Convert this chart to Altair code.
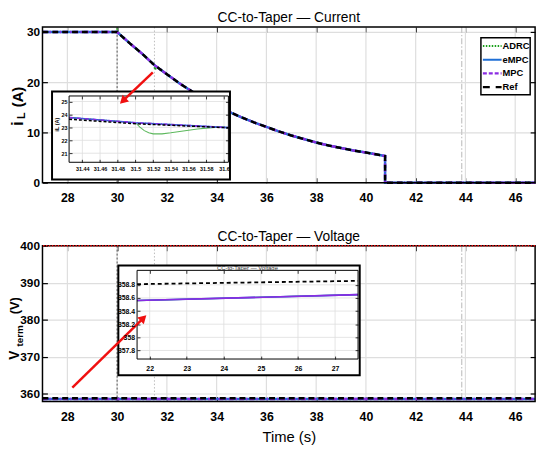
import math
import altair as alt
import pandas as pd

# ---------------- data ----------------
series = ["ADRC", "eMPC", "MPC", "Ref"]

# main current trace (eMPC, MPC and Ref coincide at this scale)
t_cur = [27, 30, 30.5, 31, 31.5, 32, 32.5, 33, 33.5, 34, 34.5, 35, 35.5, 36, 36.5, 37, 37.5, 38,
         38.5, 39, 39.5, 40, 40.5, 40.77, 40.77, 46.8]
i_cur = [30, 30, 27.8, 25.7, 23.4, 21.6, 19.8, 18.2, 16.7, 15.4, 14.1, 13.0, 12.0, 11.1, 10.2, 9.4,
         8.7, 8.0, 7.4, 6.9, 6.4, 6.0, 5.55, 5.3, 0, 0]
# ADRC current (small spike at 30 s, dip just after 31.5 s)
t_cur_adrc = [27, 29.99, 30.0, 30.04, 30.5, 31, 31.5, 31.52, 31.56, 31.62, 32, 32.5, 33, 33.5, 34,
              34.5, 35, 35.5, 36, 36.5, 37, 37.5, 38, 38.5, 39, 39.5, 40, 40.5, 40.77, 40.77, 46.8]
i_cur_adrc = [30, 30, 30.7, 29.8, 27.8, 25.7, 23.4, 22.5, 22.8, 22.95, 21.6, 19.8, 18.2, 16.7, 15.4,
              14.1, 13.0, 12.0, 11.1, 10.2, 9.4, 8.7, 8.0, 7.4, 6.9, 6.4, 6.0, 5.55, 5.3, 0, 0]

# main terminal voltage
t_volt = [27, 46.8]
v_ref = [358.85, 358.85]
v_ctrl = [358.62, 358.62]
v_limit = [400]

# zoomed current
t_zoom_cur = [31.425, 31.5, 31.605]
i_zoom_mpc = [23.76, 23.36, 22.98]
i_zoom_ref = [23.63, 23.28, 22.97]
t_zoom_adrc = [31.425, 31.5, 31.505, 31.51, 31.515, 31.52, 31.53, 31.54, 31.55, 31.56, 31.57,
               31.58, 31.59, 31.6, 31.605]
i_zoom_adrc = [23.76, 23.36, 23.02, 22.75, 22.58, 22.5, 22.5, 22.58, 22.68, 22.78, 22.87,
               22.94, 22.99, 23.0, 22.99]

# zoomed voltage
t_zoom_volt = [21.66, 27.62]
v_zoom_ref = [358.81, 358.86]
v_zoom_ctrl = [358.56, 358.65]

# ticks / markers
time_ticks = [28, 30, 32, 34, 36, 38, 40, 42, 44, 46]
cur_ticks = [0, 10, 20, 30]
volt_ticks = [360, 370, 380, 390, 400]
zoom_cur_xticks = [31.44, 31.46, 31.48, 31.5, 31.52, 31.54, 31.56, 31.58, 31.6]
zoom_cur_yticks = [21, 22, 23, 24, 25]
zoom_volt_xticks = [22, 23, 24, 25, 26, 27]
zoom_volt_yticks = [357.8, 358.0, 358.2, 358.4, 358.6, 358.8]
events = [30, 31.5, 43.85]

# ---------------- style / layout ----------------
FONT = "Liberation Sans, Arial, sans-serif"
W, HC = 500, 380           # whole drawing area (both panels)
P1 = (0, 158)              # top panel y-extent
P2 = (222, 380)            # bottom panel y-extent
GRID = "#dedede"
GREEN, BLUE, PURPLE, RED = "#1aa01a", "#1f6fd6", "#8a2be2", "#f01010"
colors = [GREEN, BLUE, PURPLE, "black"]
legend_dashes = [[1.5, 1.5], [1, 0], [4, 2], [7, 6]]

TOP_OUT = (9.7, 65.5, 190.3, 154.7)
TOP_IN = (27, 70, 188.7, 137.3)
BOT_OUT = (77, 242, 322, 353.5)
BOT_IN = (96, 247, 320.3, 337)

xs = alt.Scale(domain=[27, 46.8], nice=False, zero=False)
ys_cur = alt.Scale(domain=[0, 31], range=[P1[1], P1[0]], nice=False, zero=False)
ys_volt = alt.Scale(domain=[358, 400], range=[P2[1], P2[0]], nice=False, zero=False)
zx_cur = alt.Scale(domain=[31.425, 31.605], range=[TOP_IN[0], TOP_IN[2]], nice=False, zero=False)
zy_cur = alt.Scale(domain=[20.3, 25.43], range=[TOP_IN[3], TOP_IN[1]], nice=False, zero=False)
zx_volt = alt.Scale(domain=[21.66, 27.62], range=[BOT_IN[0], BOT_IN[2]], nice=False, zero=False)
zy_volt = alt.Scale(domain=[357.67, 359.02], range=[BOT_IN[3], BOT_IN[1]], nice=False, zero=False)


def one():
    return pd.DataFrame({"o": [0]})


def line(ts, vs, sx, sy, color, width, dash=None):
    kw = dict(color=color, strokeWidth=width)
    if dash:
        kw["strokeDash"] = dash
    df = pd.DataFrame({"t": ts, "v": vs, "k": list(range(len(ts)))})
    return alt.Chart(df).mark_line(**kw).encode(
        x=alt.X("t:Q", scale=sx, axis=None),
        y=alt.Y("v:Q", scale=sy, axis=None),
        order="k:Q")


BASE_AX = dict(domain=False, grid=False, labelFlush=False, labelOverlap=False, title=None,
               tickColor="black", labelColor="black", labelFont=FONT)


def xcar(values, scale, **kw):
    ax = dict(BASE_AX)
    ax.update(kw)
    return alt.Chart(pd.DataFrame({"v": values})).mark_point(opacity=0).encode(
        x=alt.X("v:Q", scale=scale, axis=alt.Axis(values=values, **ax)))


def ycar(values, scale, **kw):
    ax = dict(BASE_AX)
    ax.update(kw)
    return alt.Chart(pd.DataFrame({"v": values})).mark_point(opacity=0).encode(
        y=alt.Y("v:Q", scale=scale, axis=alt.Axis(values=values, **ax)))


def box(x0, y0, x1, y1, fill=None, sw=1.5):
    kw = dict(stroke="black", strokeWidth=sw)
    if fill:
        kw["fill"] = fill
        kw["fillOpacity"] = 1
    else:
        kw["fillOpacity"] = 0
    return alt.Chart(one()).mark_rect(**kw).encode(
        x=alt.value(x0), y=alt.value(y0), x2=alt.value(x1), y2=alt.value(y1))


def label(txt, x, y, size, weight="bold", angle=0, color="black"):
    return alt.Chart(one()).mark_text(
        text=txt, font=FONT, fontSize=size, fontWeight=weight, angle=angle,
        align="center", baseline="middle", color=color).encode(x=alt.value(x), y=alt.value(y))


def arrow(x0, y0, x1, y1):
    L = math.hypot(x1 - x0, y1 - y0)
    ux, uy = (x1 - x0) / L, (y1 - y0) / L
    hx, hy = x1 - 4 * ux, y1 - 4 * uy
    ang = (math.degrees(math.atan2(uy, ux)) + 90) % 360
    shaft = alt.Chart(one()).mark_rule(color=RED, strokeWidth=2.5).encode(
        x=alt.value(x0), y=alt.value(y0), x2=alt.value(hx), y2=alt.value(hy))
    head = alt.Chart(one()).mark_point(shape="triangle-up", filled=True, size=90, color=RED,
                                       opacity=1, angle=ang).encode(x=alt.value(hx), y=alt.value(hy))
    return [shaft, head]


def panel_grid(P, ys, yvals):
    vg = alt.Chart(pd.DataFrame({"v": time_ticks})).mark_rule(color=GRID, strokeWidth=1.2).encode(
        x=alt.X("v:Q", scale=xs, axis=None), y=alt.value(P[0]), y2=alt.value(P[1]))
    hg = ycar(yvals, ys, orient="left", grid=True, gridColor=GRID, gridWidth=1.2,
              labels=False, ticks=False)
    return [vg, hg]


def panel_axes(P, ys, yvals, xtitle=None):
    xkw = dict(orient="bottom", offset=P[1] - HC - 5, tickSize=5, tickWidth=1.2, labelFontSize=12.5,
               labelFontWeight="bold", labelPadding=9, format="d")
    if xtitle:
        xkw.update(title=xtitle, titleFont=FONT, titleFontSize=15, titleFontWeight="normal",
                   titlePadding=7, titleColor="black")
    return [
        xcar(time_ticks, xs, **xkw),
        ycar(yvals, ys, orient="left", offset=-5, tickSize=5, tickWidth=1.2, labelFontSize=12,
             labelFontWeight="bold", labelPadding=3, format="d"),
        xcar(time_ticks, xs, orient="top", offset=-(P[0] + 5), tickSize=5, tickWidth=1.2, labels=False),
        ycar(yvals, ys, orient="right", offset=-5, tickSize=5, tickWidth=1.2, labels=False),
    ]


def event_lines(P):
    styles = [("#555555", [2, 2], 1.0), ("#bbbbbb", [1.5, 2], 1.0), ("#c8c8c8", [6, 2, 1.5, 2], 1.3)]
    return [alt.Chart(pd.DataFrame({"t": [e]})).mark_rule(color=c, strokeDash=d, strokeWidth=w).encode(
        x=alt.X("t:Q", scale=xs, axis=None), y=alt.value(P[0]), y2=alt.value(P[1]))
        for e, (c, d, w) in zip(events, styles)]


def inset_grid(IN, zx, zy, xv, yv):
    x0, y0, x1, y1 = IN
    v = alt.Chart(pd.DataFrame({"v": xv})).mark_rule(color=GRID, strokeWidth=0.8).encode(
        x=alt.X("v:Q", scale=zx, axis=None), y=alt.value(y0), y2=alt.value(y1))
    h = alt.Chart(pd.DataFrame({"v": yv})).mark_rule(color=GRID, strokeWidth=0.8).encode(
        y=alt.Y("v:Q", scale=zy, axis=None), x=alt.value(x0), x2=alt.value(x1))
    return [v, h]


def inset_axes(IN, zx, zy, xv, yv, xfmt, yfmt, fs, xpad, ypad, tk=3):
    x0, y0, x1, y1 = IN
    common = dict(zindex=1, tickSize=tk, tickWidth=0.8, labelFontSize=fs, labelFontWeight="bold")
    return [
        xcar(xv, zx, orient="bottom", offset=y1 - tk - HC, labelPadding=xpad, format=xfmt, **common),
        ycar(yv, zy, orient="left", offset=-(x0 + tk), labelPadding=ypad, format=yfmt, **common),
        xcar(xv, zx, orient="top", offset=-(y0 + tk), labels=False, **common),
        ycar(yv, zy, orient="right", offset=x1 - tk - W, labels=False, **common),
    ]


def legend():
    # legend rows placed by their position in the series list
    sc = alt.Scale(domain=[0, len(series) - 1], range=[19.3, 61], nice=False, zero=False)
    dfl = pd.DataFrame({"name": series, "row": list(range(len(series)))})
    col = alt.Color("name:N", scale=alt.Scale(domain=series, range=colors), legend=None)
    dash = alt.StrokeDash("name:N", scale=alt.Scale(domain=series, range=legend_dashes), legend=None)
    lines = alt.Chart(dfl).mark_rule(strokeWidth=2.2).encode(
        x=alt.value(447), x2=alt.value(466), y=alt.Y("row:Q", scale=sc, axis=None),
        color=col, strokeDash=dash)
    text = alt.Chart(dfl).mark_text(align="left", baseline="middle", font=FONT, fontSize=9.5,
                                    fontWeight="bold", color="black").encode(
        x=alt.value(467), y=alt.Y("row:Q", scale=sc, axis=None), text="name:N")
    return [box(445, 11, 495, 68.7, fill="white", sw=1.5), lines, text]


layers = (
    # ---- top panel: current ----
    panel_grid(P1, ys_cur, cur_ticks)
    + event_lines(P1)
    + [
        line(t_cur_adrc, i_cur_adrc, xs, ys_cur, GREEN, 2, [1.5, 1.5]),
        line(t_cur, i_cur, xs, ys_cur, BLUE, 2.5),
        line(t_cur, i_cur, xs, ys_cur, PURPLE, 2.5, [5, 2, 1.5, 2]),
        line(t_cur, i_cur, xs, ys_cur, "black", 2.5, [6, 4]),
        box(0, P1[0], W, P1[1], sw=1.5),
    ]
    + panel_axes(P1, ys_cur, cur_ticks)
    + [box(*TOP_OUT, fill="white", sw=2)]
    + inset_grid(TOP_IN, zx_cur, zy_cur, zoom_cur_xticks, zoom_cur_yticks)
    + [
        line(t_zoom_adrc, i_zoom_adrc, zx_cur, zy_cur, "#5cb85c", 1.1),
        line(t_zoom_cur, i_zoom_mpc, zx_cur, zy_cur, BLUE, 1.6),
        line(t_zoom_cur, i_zoom_mpc, zx_cur, zy_cur, PURPLE, 1.6, [4, 1.5, 1, 1.5]),
        line(t_zoom_cur, i_zoom_ref, zx_cur, zy_cur, "black", 1.5, [3, 2]),
        box(*TOP_IN, sw=1),
    ]
    + inset_axes(TOP_IN, zx_cur, zy_cur, zoom_cur_xticks, zoom_cur_yticks, ".2~f", "d", 5.5, 4, 2)
    + [label("iL (A)", 15, 99, 5.5, angle=270)]
    + legend()
    + arrow(112, 46, 78.7, 77.7)
    + [
        label("CC-to-Taper — Current", W / 2, -9, 14, weight="normal"),
        label("i", -25, 98, 17, angle=270),
        label("L", -20.5, 90, 11, angle=270),
        label("(A)", -25, 71, 15, angle=270),
    ]
    # ---- bottom panel: voltage ----
    + panel_grid(P2, ys_volt, volt_ticks)
    + event_lines(P2)
    + [
        line(t_volt, v_ctrl, xs, ys_volt, GREEN, 2, [1.5, 1.5]),
        line(t_volt, v_ctrl, xs, ys_volt, BLUE, 2.5),
        line(t_volt, v_ctrl, xs, ys_volt, PURPLE, 2.5, [5, 2, 1.5, 2]),
        line(t_volt, v_ref, xs, ys_volt, "black", 2.5, [6, 4]),
        box(0, P2[0], W, P2[1], sw=1.5),
        alt.Chart(pd.DataFrame({"v": v_limit})).mark_rule(
            color=RED, strokeDash=[1.5, 1.5], strokeWidth=1.5).encode(
            y=alt.Y("v:Q", scale=ys_volt, axis=None)),
    ]
    + panel_axes(P2, ys_volt, volt_ticks, xtitle="Time (s)")
    + [box(*BOT_OUT, fill="white", sw=2)]
    + inset_grid(BOT_IN, zx_volt, zy_volt, zoom_volt_xticks, zoom_volt_yticks)
    + [
        line(t_zoom_volt, v_zoom_ctrl, zx_volt, zy_volt, "#5cb85c", 1.2),
        line(t_zoom_volt, v_zoom_ctrl, zx_volt, zy_volt, BLUE, 1.6),
        line(t_zoom_volt, v_zoom_ctrl, zx_volt, zy_volt, PURPLE, 1.6),
        line(t_zoom_volt, v_zoom_ref, zx_volt, zy_volt, "black", 1.8, [4, 3]),
        box(*BOT_IN, sw=1),
    ]
    + inset_axes(BOT_IN, zx_volt, zy_volt, zoom_volt_xticks, zoom_volt_yticks, "d", ".1~f", 7, 6, 2.5)
    + [label("CC-to-Taper — Voltage", 208, 244.5, 6, weight="normal", color="#333333")]
    + arrow(30.3, 366, 105.3, 292.7)
    + [
        label("CC-to-Taper — Voltage", W / 2, P2[0] - 9, 14, weight="normal"),
        label("V", -27.5, 333, 14, angle=270),
        label("term", -23, 313.5, 10, angle=270),
        label("(V)", -27.5, 283, 13, angle=270),
    ]
)

chart = alt.layer(*layers).resolve_scale(x="independent", y="independent").properties(
    width=W, height=HC, background="white",
    autosize=alt.AutoSizeParams(type="none"),
    padding={"left": 35, "top": 16, "right": 7, "bottom": 43},
).configure_view(strokeWidth=0)

chart.save("out.html", embed_options={"renderer": "svg", "actions": False})
